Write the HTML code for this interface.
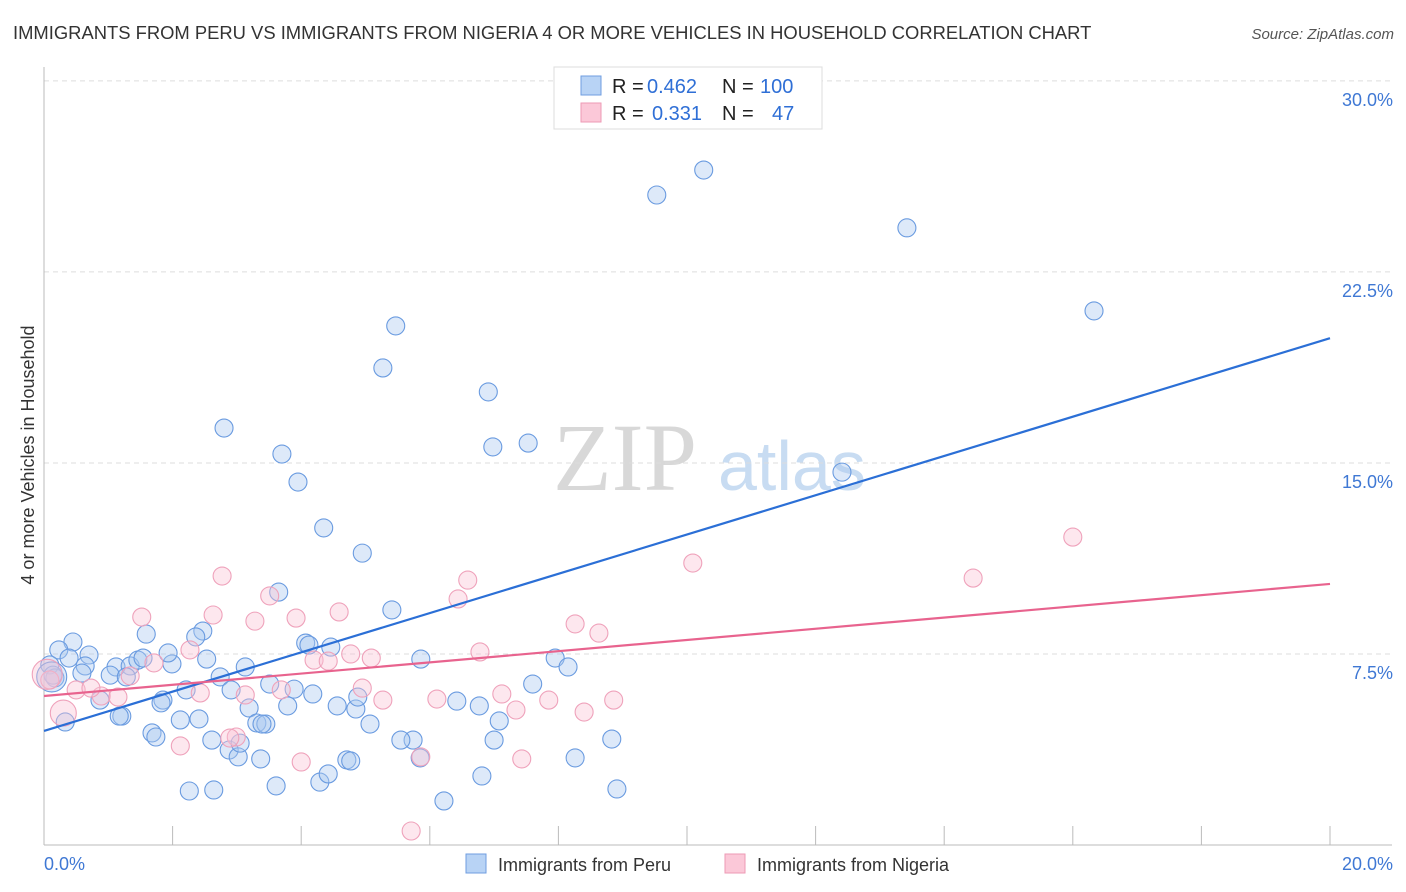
<!DOCTYPE html>
<html><head><meta charset="utf-8">
<style>
body{margin:0;background:#fff;font-family:"Liberation Sans",sans-serif;}
#wrap{position:relative;width:1406px;height:892px;overflow:hidden;}
svg{position:absolute;left:0;top:0;}
</style></head>
<body>
<div id="wrap">
<svg id="chart" width="1406" height="892">
  <text x="13" y="39" font-size="18.4" fill="#333">IMMIGRANTS FROM PERU VS IMMIGRANTS FROM NIGERIA 4 OR MORE VEHICLES IN HOUSEHOLD CORRELATION CHART</text>
  <text x="1394" y="39" font-size="15" fill="#555" font-style="italic" text-anchor="end">Source: ZipAtlas.com</text>
  <text transform="translate(34,455) rotate(-90)" font-size="18" fill="#333" text-anchor="middle">4 or more Vehicles in Household</text>
  <g>
    <text x="553" y="490" font-family="Liberation Serif,serif" font-size="96" fill="#d8d8d8">ZIP</text>
    <text x="718" y="490" font-size="70" fill="#c8dcf2">atlas</text>
  </g>
  <g id="grid"></g>
  <g id="axes"></g>
  <g id="pts"></g>
  <g id="trend"></g>
  <g>
    <rect x="554" y="67" width="268" height="62" fill="#fff" stroke="#ddd"/>
    <rect x="581" y="76" width="20" height="19" fill="#b8d3f5" stroke="#6f9ee0"/>
    <rect x="581" y="103" width="20" height="19" fill="#fbc8d8" stroke="#ee9ab5"/>
    <text y="93" font-size="20"><tspan x="612" fill="#222">R = </tspan><tspan x="647" fill="#2f6fd6">0.462</tspan><tspan x="722" fill="#222">N = </tspan><tspan x="760" fill="#2f6fd6">100</tspan></text>
    <text y="120" font-size="20"><tspan x="612" fill="#222">R = </tspan><tspan x="652" fill="#2f6fd6">0.331</tspan><tspan x="722" fill="#222">N = </tspan><tspan x="772" fill="#2f6fd6">47</tspan></text>
  </g>
  <g>
    <rect x="466" y="854" width="20" height="19" fill="#b8d3f5" stroke="#6f9ee0"/>
    <text x="498" y="871" font-size="18" fill="#333">Immigrants from Peru</text>
    <rect x="725" y="854" width="20" height="19" fill="#fbc8d8" stroke="#ee9ab5"/>
    <text x="757" y="871" font-size="18" fill="#333">Immigrants from Nigeria</text>
  </g>
</svg>
</div>
<script>
const yTicks=[7.5,15,22.5,30];
const yTickLabels=["7.5%","15.0%","22.5%","30.0%"];
const xTicks=[0,2,4,6,8,10,12,14,16,18,20];
const xEndLabels=["0.0%","20.0%"];
const peruX=[10.26,9.53,13.42,16.33,5.47,5.27,6.91,2.80,6.98,7.53,12.41,3.70,3.95,4.35,4.95,3.65,5.41,2.47,1.59,2.36,0.45,0.70,0.23,0.39,0.09,0.17,0.64,1.12,1.34,1.46,1.54,1.99,2.53,1.93,1.03,0.59,0.87,1.21,1.68,1.74,2.12,2.41,1.85,2.21,2.74,2.91,3.13,3.51,3.89,4.18,4.07,4.12,4.46,5.86,7.95,8.15,7.60,6.42,6.77,7.08,5.07,4.85,4.56,4.88,3.79,3.19,3.31,3.45,2.61,2.88,3.02,3.05,3.37,3.61,2.26,2.64,4.71,4.77,4.29,4.42,5.74,5.55,5.85,6.22,6.81,7.00,8.26,8.83,8.91,0.33,0.14,1.82,1.28,3.39,1.17,0.12];
const peruY=[26.50,25.52,24.23,20.97,20.38,18.73,17.79,16.37,15.63,15.78,14.64,15.35,14.25,12.45,11.46,9.93,9.23,8.40,8.28,8.17,7.97,7.46,7.66,7.34,7.07,6.56,7.03,6.99,7.03,7.26,7.34,7.11,7.30,7.54,6.67,6.75,5.69,5.06,4.40,4.24,4.91,4.95,5.69,6.09,6.60,6.09,6.99,6.32,6.12,5.93,7.93,7.85,7.77,7.30,7.34,6.99,6.32,5.65,5.46,4.87,4.75,5.34,5.46,5.81,5.46,5.38,4.79,4.75,4.12,3.73,3.46,4.00,3.38,2.32,2.12,2.16,3.34,3.30,2.47,2.79,4.12,4.12,3.42,1.73,2.71,4.12,3.42,4.16,2.20,4.83,6.67,5.58,6.60,4.75,5.06,6.60];
const peruR=[9,9,9,9,9,9,9,9,9,9,9,9,9,9,9,9,9,9,9,9,9,9,9,9,9,9,9,9,9,9,9,9,9,9,9,9,9,9,9,9,9,9,9,9,9,9,9,9,9,9,9,9,9,9,9,9,9,9,9,9,9,9,9,9,9,9,9,9,9,9,9,9,9,9,9,9,9,9,9,9,9,9,9,9,9,9,9,9,9,9,9,9,9,9,9,15];
const nigX=[2.77,6.59,10.09,14.45,16.00,1.52,2.63,3.51,3.92,4.59,6.44,8.26,8.63,2.27,3.28,1.71,4.20,4.42,4.77,5.09,6.78,1.34,0.89,1.15,0.50,0.73,2.43,3.13,3.69,4.95,5.27,6.11,7.12,7.34,7.85,8.40,8.86,0.30,0.09,2.12,2.99,4.00,5.86,7.43,5.71,2.89,0.05];
const nigY=[10.56,10.40,11.07,10.48,12.09,8.95,9.03,9.78,8.91,9.15,9.66,8.68,8.32,7.66,8.79,7.15,7.26,7.22,7.50,7.34,7.58,6.64,5.85,5.81,6.09,6.16,5.97,5.89,6.09,6.16,5.69,5.73,5.93,5.30,5.69,5.22,5.69,5.18,6.48,3.89,4.24,3.26,3.46,3.38,0.55,4.20,6.70];
const nigR=[9,9,9,9,9,9,9,9,9,9,9,9,9,9,9,9,9,9,9,9,9,9,9,9,9,9,9,9,9,9,9,9,9,9,9,9,9,13,9,9,9,9,9,9,9,9,15];
const peruTrend=[4.48,19.9];
const nigTrend=[5.85,10.25];

const NS="http://www.w3.org/2000/svg";
const X0=44,X1=1330,Y0=845,PXPERY=25.47;
function sx(v){return X0+(X1-X0)*v/20;}
function sy(v){return Y0-v*PXPERY;}
function mk(tag,attrs,parent){const e=document.createElementNS(NS,tag);for(const k in attrs)e.setAttribute(k,attrs[k]);parent.appendChild(e);return e;}
const grid=document.getElementById('grid'),axes=document.getElementById('axes'),pts=document.getElementById('pts'),trend=document.getElementById('trend');
yTicks.forEach((t,i)=>{
  const l=mk('line',{x1:X0,x2:1392,y1:sy(t),y2:sy(t),stroke:'#ddd','stroke-dasharray':'5,4'},grid);
  
  
  const tx=mk('text',{x:1393,y:sy(t)+25,'font-size':18,fill:'#3f78d4','text-anchor':'end'},axes);
  tx.textContent=yTickLabels[i];
  
  
});
const ya=mk('line',{x1:X0,x2:X0,y1:67,y2:Y0,stroke:'#bbb'},axes);


const xa=mk('line',{x1:X0,x2:1392,y1:Y0,y2:Y0,stroke:'#bbb'},axes);


xTicks.forEach(t=>{
  const l=mk('line',{x1:sx(t),x2:sx(t),y1:Y0-19,y2:Y0,stroke:'#bbb'},axes);
  
  
});
const xl0=mk('text',{x:44,y:870,'font-size':18,fill:'#3f78d4'},axes);xl0.textContent=xEndLabels[0];


const xl1=mk('text',{x:1393,y:870,'font-size':18,fill:'#3f78d4','text-anchor':'end'},axes);xl1.textContent=xEndLabels[1];


peruX.forEach((v,i)=>{
  const c=mk('circle',{cx:sx(v),cy:sy(peruY[i]),r:peruR[i]||9,fill:'rgba(170,200,240,0.4)',stroke:'#6a9be0','stroke-width':1.1},pts);
  
  
});
nigX.forEach((v,i)=>{
  const c=mk('circle',{cx:sx(v),cy:sy(nigY[i]),r:nigR[i]||9,fill:'rgba(250,195,212,0.4)',stroke:'#efa2bb','stroke-width':1.1},pts);
  
  
});
const tp=mk('line',{x1:sx(0),y1:sy(peruTrend[0]),x2:sx(20),y2:sy(peruTrend[1]),stroke:'#2b6fd6','stroke-width':2.2},trend);


const tn=mk('line',{x1:sx(0),y1:sy(nigTrend[0]),x2:sx(20),y2:sy(nigTrend[1]),stroke:'#e8638e','stroke-width':2.2},trend);


</script>
</body></html>
